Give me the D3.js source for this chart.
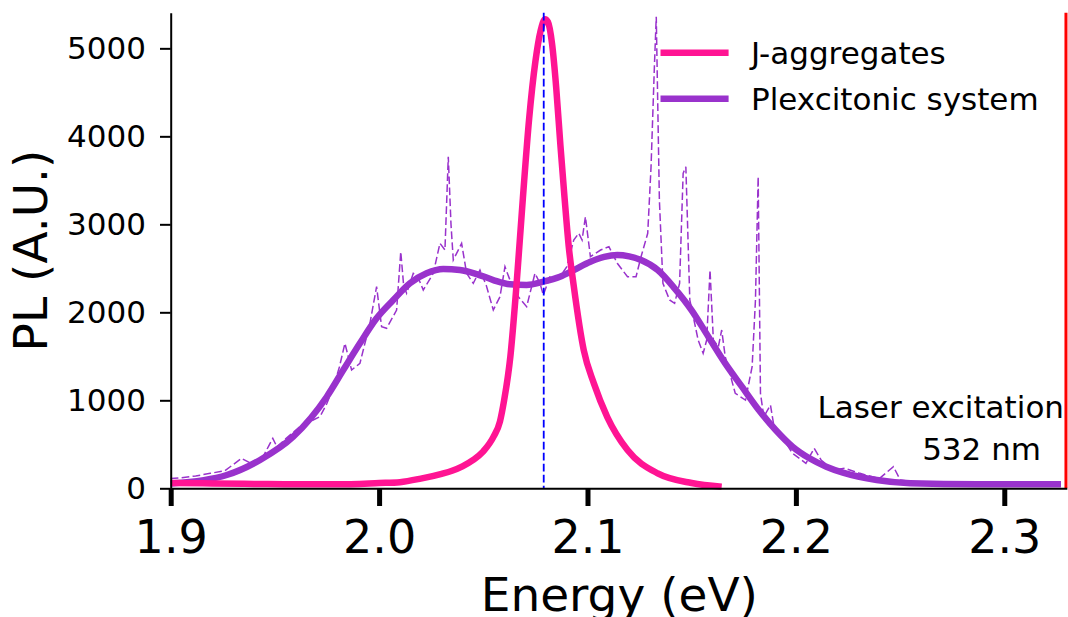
<!DOCTYPE html>
<html>
<head>
<meta charset="utf-8">
<script src="https://cdn.jsdelivr.net/npm/d3@7"></script>
<style>
  html, body { margin: 0; padding: 0; background: #fff; }
  svg { display: block; font-family: "DejaVu Sans", sans-serif; }
</style>
</head>
<body>
<svg id="chart" width="1068" height="617"></svg>
<script>
// ---- data ----
const xTicks = [1.9, 2.0, 2.1, 2.2, 2.3];
const yTicks = [0, 1000, 2000, 3000, 4000, 5000];

// J-aggregates PL
const jEnergy = [1.900, 1.920, 1.940, 1.960, 1.980, 2.000, 2.010, 2.020, 2.030, 2.035, 2.040, 2.045, 2.050, 2.055, 2.058, 2.060, 2.063, 2.066, 2.069, 2.072, 2.075, 2.0775, 2.0796, 2.081, 2.083, 2.085, 2.087, 2.089, 2.091, 2.0934, 2.0982, 2.1031, 2.1095, 2.1192, 2.1337, 2.150, 2.1644];
const jPL     = [60, 55, 50, 45, 45, 60, 70, 110, 165, 200, 250, 320, 420, 590, 760, 1000, 1500, 2330, 3300, 4200, 4850, 5200, 5330, 5300, 5050, 4550, 3900, 3300, 2750, 2300, 1570, 1190, 810, 435, 170, 60, 18];

// Plexcitonic system: fitted curve
const fitEnergy = [1.900, 1.9013, 1.9269, 1.9429, 1.9588, 1.9749, 1.9828, 1.9908, 1.9988, 2.0068, 2.0148, 2.0228, 2.0308, 2.0388, 2.0468, 2.0548, 2.0628, 2.0708, 2.0788, 2.0868, 2.0934, 2.1014, 2.1080, 2.1143, 2.1200, 2.1257, 2.1337, 2.1418, 2.1499, 2.1580, 2.1661, 2.1741, 2.1822, 2.1903, 2.1984, 2.2065, 2.2146, 2.2226, 2.2388, 2.2549, 2.2872, 2.3272];
const fitPL     = [55, 57, 151, 322, 586, 1041, 1344, 1648, 1932, 2140, 2330, 2443, 2492, 2481, 2435, 2367, 2318, 2310, 2348, 2405, 2480, 2575, 2630, 2651, 2635, 2594, 2481, 2273, 2026, 1723, 1420, 1155, 890, 663, 473, 341, 246, 178, 94, 57, 45, 45];

// Plexcitonic system: raw spectrum
const rawEnergy = [1.900, 1.905, 1.912, 1.919, 1.926, 1.934, 1.938, 1.943, 1.947, 1.949, 1.951, 1.955, 1.962, 1.967, 1.9716, 1.975, 1.978, 1.981, 1.9836, 1.9868, 1.9908, 1.9956, 1.9988, 2.0012, 2.0036, 2.0084, 2.0104, 2.0118, 2.0132, 2.0164, 2.0190, 2.0212, 2.026, 2.0292, 2.0316, 2.0332, 2.0345, 2.0356, 2.0396, 2.042, 2.0452, 2.0484, 2.0515, 2.0548, 2.058, 2.0604, 2.0628, 2.0668, 2.0708, 2.0748, 2.0772, 2.0788, 2.082, 2.0868, 2.0901, 2.0934, 2.0958, 2.0974, 2.099, 2.1014, 2.1063, 2.1103, 2.1143, 2.1192, 2.1233, 2.1257, 2.1289, 2.1305, 2.1321, 2.133, 2.1345, 2.1362, 2.1394, 2.1418, 2.1442, 2.1459, 2.1472, 2.1491, 2.1531, 2.1555, 2.1572, 2.1588, 2.1604, 2.1628, 2.1644, 2.1661, 2.1709, 2.1758, 2.179, 2.1806, 2.1819, 2.183, 2.1846, 2.1878, 2.1895, 2.194, 2.1984, 2.2048, 2.2088, 2.2121, 2.2177, 2.2234, 2.2307, 2.240, 2.2468, 2.2501, 2.260, 2.280, 2.300, 2.3272];
const rawPL     = [110, 120, 140, 170, 200, 340, 290, 300, 480, 568, 470, 560, 700, 760, 814, 966, 1150, 1382, 1648, 1344, 1420, 1875, 2291, 1836, 1818, 2026, 2689, 2300, 2216, 2443, 2380, 2253, 2443, 2784, 2708, 3768, 3000, 2594, 2784, 2443, 2330, 2481, 2300, 2026, 2177, 2518, 2367, 2177, 2064, 2443, 2330, 2197, 2405, 2405, 2518, 2822, 2898, 2822, 3086, 2632, 2708, 2746, 2557, 2405, 2405, 2632, 2898, 3655, 4791, 5360, 3276, 2330, 2140, 2102, 2330, 3580, 3655, 2140, 1685, 1534, 1685, 2481, 1685, 1609, 1799, 1495, 1080, 1003, 1382, 2140, 3541, 1080, 814, 947, 700, 560, 398, 284, 454, 322, 208, 227, 170, 110, 246, 94, 60, 50, 45, 45];

const jPeakEnergy = 2.079;      // blue dashed marker
const laserEnergy = 2.3296;     // 532 nm laser line
const seriesNames = ["J-aggregates", "Plexcitonic system"];
const seriesColors = ["#ff1493", "#9932cc"];

// ---- layout ----
const svg = d3.select("#chart");
const x = d3.scaleLinear().domain([1.9, 2.33]).range([170.7, 1066.8]);
const y = d3.scaleLinear().domain([0, 5405]).range([488.3, 12.7]);

const toPts = (xs, ys) => xs.map((v, i) => [v, ys[i]]);

// raw dashed spectrum
svg.append("path")
  .datum(toPts(rawEnergy, rawPL))
  .attr("d", d3.line().x(d => x(d[0])).y(d => y(d[1])).curve(d3.curveLinear))
  .attr("fill", "none").attr("stroke", seriesColors[1])
  .attr("stroke-width", 1.5).attr("stroke-dasharray", "7.7,3.3");

// fitted plexcitonic curve
svg.append("path")
  .datum(toPts(fitEnergy, fitPL))
  .attr("d", d3.line().x(d => x(d[0])).y(d => y(d[1])).curve(d3.curveMonotoneX))
  .attr("fill", "none").attr("stroke", seriesColors[1])
  .attr("stroke-width", 6.5).attr("stroke-linejoin", "round");

// J-aggregates
svg.append("path")
  .datum(toPts(jEnergy, jPL))
  .attr("d", d3.line().x(d => x(d[0])).y(d => y(d[1])).curve(d3.curveMonotoneX))
  .attr("fill", "none").attr("stroke", seriesColors[0])
  .attr("stroke-width", 6.5).attr("stroke-linejoin", "round");

// blue dashed vertical
svg.append("line")
  .attr("x1", x(jPeakEnergy)).attr("x2", x(jPeakEnergy))
  .attr("y1", y.range()[1]).attr("y2", y.range()[0])
  .attr("stroke", "#0000ff").attr("stroke-width", 1.8).attr("stroke-dasharray", "7.7,3.3");

// red laser line
svg.append("line")
  .attr("x1", x(laserEnergy)).attr("x2", x(laserEnergy))
  .attr("y1", y.range()[1]).attr("y2", y.range()[0])
  .attr("stroke", "red").attr("stroke-width", 3);

// axes
const xAxis = svg.append("g")
  .attr("transform", `translate(0,${y.range()[0]})`)
  .call(d3.axisBottom(x).tickValues(xTicks).tickFormat(d3.format(".1f"))
        .tickSize(17.7).tickSizeOuter(0).tickPadding(14));
xAxis.select(".domain").attr("stroke", "#000").attr("stroke-width", 2);
xAxis.selectAll(".tick line").attr("stroke", "#000").attr("stroke-width", 5);
xAxis.selectAll(".tick text").attr("font-size", 46).attr("fill", "#000")
  .attr("font-family", "DejaVu Sans");

const yAxis = svg.append("g")
  .attr("transform", `translate(${x.range()[0]},0)`)
  .call(d3.axisLeft(y).tickValues(yTicks).tickFormat(d3.format("d"))
        .tickSize(10.7).tickSizeOuter(0).tickPadding(14));
yAxis.select(".domain").attr("stroke", "#000").attr("stroke-width", 2);
yAxis.selectAll(".tick line").attr("stroke", "#000").attr("stroke-width", 2);
yAxis.selectAll(".tick text").attr("font-size", 31).attr("fill", "#000")
  .attr("font-family", "DejaVu Sans");

// axis labels
svg.append("text")
  .attr("x", (x.range()[0] + 1068) / 2).attr("y", 611)
  .attr("text-anchor", "middle").attr("font-size", 47).attr("fill", "#000")
  .text("Energy (eV)");
svg.append("text")
  .attr("transform", `translate(46.7,${(y.range()[0] + y.range()[1]) / 2}) rotate(-90)`)
  .attr("text-anchor", "middle").attr("font-size", 47).attr("fill", "#000")
  .text("PL (A.U.)");

// legend
const legend = svg.append("g");
seriesNames.forEach((name, i) => {
  const ly = 52.7 + i * 46;
  legend.append("line").attr("x1", 660.5).attr("x2", 728.6)
    .attr("y1", ly).attr("y2", ly)
    .attr("stroke", seriesColors[i]).attr("stroke-width", 6.5);
  legend.append("text").attr("x", 751).attr("y", ly + 11.5)
    .attr("font-size", 31).attr("fill", "#000").text(name);
});

// annotation
svg.append("text").attr("x", 1064).attr("y", 418).attr("text-anchor", "end")
  .attr("font-size", 31).attr("fill", "#000").text("Laser excitation");
svg.append("text").attr("x", 1041).attr("y", 460).attr("text-anchor", "end")
  .attr("font-size", 31).attr("fill", "#000").text("532 nm");
</script>
</body>
</html>
